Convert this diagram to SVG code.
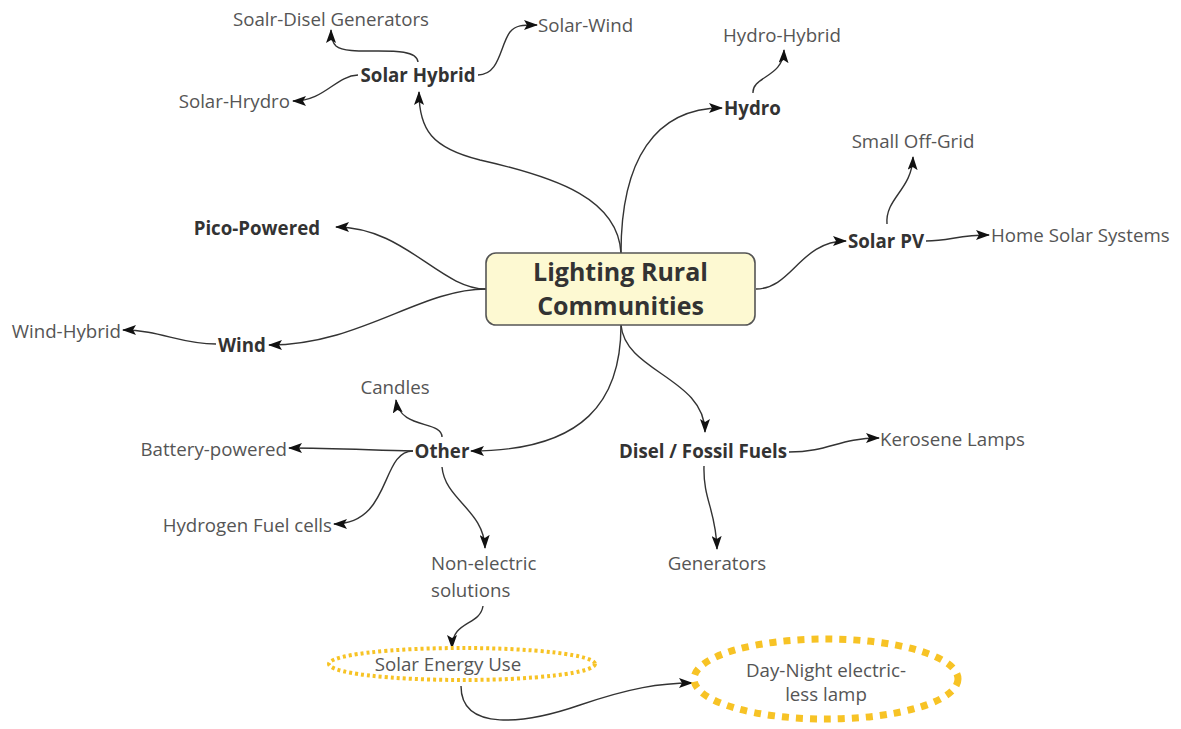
<svg xmlns="http://www.w3.org/2000/svg" width="1181" height="729" viewBox="0 0 1181 729">
<defs>
<marker id="arr" markerUnits="userSpaceOnUse" markerWidth="14" markerHeight="10" refX="13" refY="5" orient="auto">
<path d="M0,0 L14,5 L0,10 L3,5 Z" fill="#111"/>
</marker>
<style>
.c{fill:none;stroke:#333;stroke-width:1.4;marker-end:url(#arr)}
.t{font-family:"Open Sans","Liberation Sans",sans-serif;font-size:18.7px;fill:#555}
.b{font-family:"Open Sans","Liberation Sans",sans-serif;font-size:18.7px;font-weight:bold;fill:#333}
.m{font-family:"Open Sans","Liberation Sans",sans-serif;font-size:25px;font-weight:bold;fill:#333}
</style>
</defs>
<rect width="1181" height="729" fill="#fff"/>
<g id="connectors">
<path class="c" d="M621,253 C618,200 560,178 480,160 C432,148 419,130 419,92"/>
<path class="c" d="M621,253 C621,160 655,108 722,108"/>
<path class="c" d="M478,75 C500,75 500,45 510,32 C516,25 522,25 537,25"/>
<path class="c" d="M418,62 C416,42 350,58 336,46 C332,42 331,38 331,30"/>
<path class="c" d="M358,75 C335,76 325,101 293,101"/>
<path class="c" d="M753,93 C752,76 783,78 784,50"/>
<path class="c" d="M756,289 C792,289 800,241 846,241"/>
<path class="c" d="M887,224 C885,198 912,190 913,157"/>
<path class="c" d="M926,241 C950,241 958,235 989,235"/>
<path class="c" d="M486,289 C440,289 405,227 336,227"/>
<path class="c" d="M486,289 C420,289 360,345 269,345"/>
<path class="c" d="M216,344 C180,344 160,330 123,330"/>
<path class="c" d="M621,325 C621,400 585,451 471,451"/>
<path class="c" d="M621,325 C625,372 705,378 705,432"/>
<path class="c" d="M789,452 C830,452 838,438 879,438"/>
<path class="c" d="M704,466 C703,500 716,510 717,549"/>
<path class="c" d="M442,437 C442,420 400,430 396,400"/>
<path class="c" d="M413,451 C370,450 330,448 289,448"/>
<path class="c" d="M413,451 C380,451 392,524 334,524"/>
<path class="c" d="M442,467 C445,500 484,510 485,548"/>
<path class="c" d="M483,606 C480,626 452,620 452,648"/>
<path class="c" d="M461,686 C461,732 525,724 580,705 C630,688 660,683 692,683"/>
</g>
<g id="center">
<rect x="486" y="253" width="269" height="72" rx="10" fill="#fdf9d2" stroke="#555" stroke-width="1.6"/>
<text class="m" x="620.5" y="281" text-anchor="middle">Lighting Rural</text>
<text class="m" x="620.5" y="315" text-anchor="middle">Communities</text>
</g>
<g id="solar-hybrid"><text class="b" x="418" y="82" text-anchor="middle">Solar Hybrid</text></g>
<g id="soalr-disel"><text class="t" x="331" y="26" text-anchor="middle">Soalr-Disel Generators</text></g>
<g id="solar-wind"><text class="t" x="538" y="32">Solar-Wind</text></g>
<g id="solar-hrydro"><text class="t" x="290" y="108" text-anchor="end">Solar-Hrydro</text></g>
<g id="hydro"><text class="b" x="724" y="115">Hydro</text></g>
<g id="hydro-hybrid"><text class="t" x="782" y="42" text-anchor="middle">Hydro-Hybrid</text></g>
<g id="solar-pv"><text class="b" x="848" y="248">Solar PV</text></g>
<g id="small-off-grid"><text class="t" x="913" y="148" text-anchor="middle">Small Off-Grid</text></g>
<g id="home-solar"><text class="t" x="991" y="242">Home Solar Systems</text></g>
<g id="pico"><text class="b" x="320" y="235" text-anchor="end">Pico-Powered</text></g>
<g id="wind"><text class="b" x="242" y="352" text-anchor="middle">Wind</text></g>
<g id="wind-hybrid"><text class="t" x="121" y="338" text-anchor="end">Wind-Hybrid</text></g>
<g id="other"><text class="b" x="442" y="458" text-anchor="middle">Other</text></g>
<g id="candles"><text class="t" x="395" y="394" text-anchor="middle">Candles</text></g>
<g id="battery"><text class="t" x="287" y="456" text-anchor="end">Battery-powered</text></g>
<g id="hydrogen"><text class="t" x="332" y="532" text-anchor="end">Hydrogen Fuel cells</text></g>
<g id="non-electric"><text class="t" x="431" y="570">Non-electric</text><text class="t" x="431" y="597">solutions</text></g>
<g id="disel"><text class="b" x="703" y="458" text-anchor="middle">Disel / Fossil Fuels</text></g>
<g id="kerosene"><text class="t" x="880" y="446">Kerosene Lamps</text></g>
<g id="generators"><text class="t" x="717" y="570" text-anchor="middle">Generators</text></g>
<g id="solar-energy-use">
<ellipse cx="462" cy="664" rx="133" ry="16" fill="none" stroke="#f7c325" stroke-width="4" stroke-dasharray="3,3"/>
<text class="t" x="448" y="671" text-anchor="middle">Solar Energy Use</text>
</g>
<g id="day-night">
<ellipse cx="826" cy="679" rx="132" ry="40" fill="none" stroke="#f7c325" stroke-width="7" stroke-dasharray="7,7"/>
<text class="t" x="826" y="677" text-anchor="middle">Day-Night electric-</text>
<text class="t" x="826" y="701" text-anchor="middle">less lamp</text>
</g>
</svg>
